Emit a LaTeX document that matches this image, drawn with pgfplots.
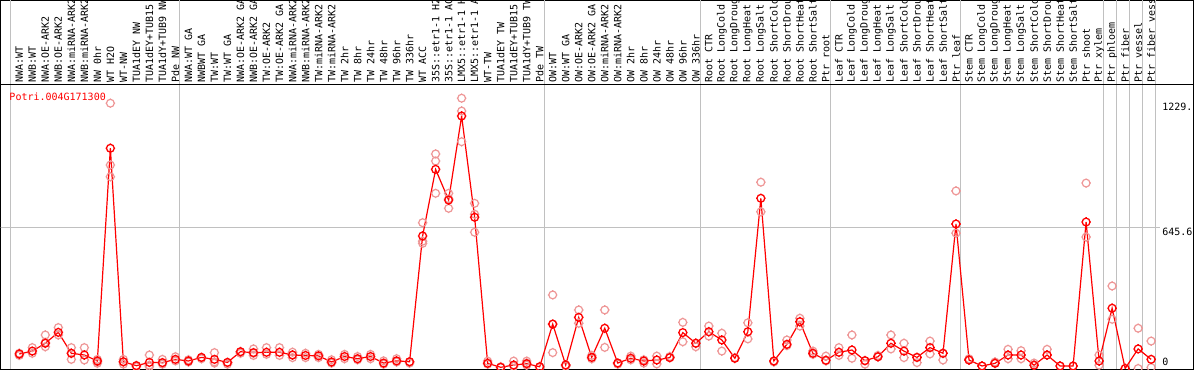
\documentclass[border=0pt]{standalone}
\usepackage{pgfplots}
\pgfplotsset{compat=1.18}
\usepackage{fontspec}
\setmainfont{DejaVu Sans Mono}
\definecolor{rep}{RGB}{238,150,150}
\definecolor{gridc}{RGB}{192,192,192}
\pgfdeclareplotmark{tcirc}{%
  \pgfpathcircle{\pgfpointorigin}{\pgfplotmarksize}%
  \pgfpathmoveto{\pgfpoint{0pt}{\pgfplotmarksize}}\pgfpathlineto{\pgfpoint{0pt}{\pgfplotmarksize+0.9pt}}%
  \pgfpathmoveto{\pgfpoint{0pt}{-\pgfplotmarksize}}\pgfpathlineto{\pgfpoint{0pt}{-\pgfplotmarksize-0.9pt}}%
  \pgfpathmoveto{\pgfpoint{\pgfplotmarksize}{0pt}}\pgfpathlineto{\pgfpoint{\pgfplotmarksize+0.9pt}{0pt}}%
  \pgfpathmoveto{\pgfpoint{-\pgfplotmarksize}{0pt}}\pgfpathlineto{\pgfpoint{-\pgfplotmarksize-0.9pt}{0pt}}%
  \pgfusepathqstroke}
\pgfplotstableread{
x y
0 66.6
1 80
2 116
3 166
4 70
5 62
6 34.5
7 1012
8 31
9 13
10 28
11 27
12 42
13 34.5
14 51
15 42
16 28
17 77
18 73
19 74.5
20 74.5
21 62
22 60
23 58
24 30
25 55
26 45
27 55
28 25
29 35
30 31
31 609
32 915
33 774
34 1160
35 695
36 24
37 5.5
38 16
39 22
40 8
41 204
42 16
43 235
44 51
45 185
46 25
47 47
48 34.5
49 39
50 50
51 165
52 116
53 169
54 131
55 47
56 169
57 782
58 34.5
59 111
60 215
61 70
62 38
63 74.5
64 85
65 36
66 54
67 116
68 80
69 51
70 96
71 70
72 664
73 39
74 11.5
75 24
76 62
77 62
78 15
79 62
80 11.5
81 11.5
82 673
83 34.5
84 277
85 0
86 90
87 42
}\means
\pgfplotstableread{
x y
0 70
0 60
1 96
1 70
2 154
2 100
2 120
3 188
3 154
4 96
4 42
4 70
5 96
5 39
6 24
6 42
6 30
7 1219
7 935
7 881
8 42
8 20
8 30
9 13
9 8
10 62
10 8
10 15
11 42
11 20
11 25
12 54
12 35
13 30
13 40
14 51
14 45
15 73
15 30
15 25
16 28
16 20
17 77
17 70
18 90
18 60
18 70
19 96
19 65
20 96
20 60
21 62
21 75
21 50
22 70
22 50
23 65
23 50
24 40
24 25
25 65
25 45
26 55
26 40
27 65
27 45
28 35
28 20
29 45
29 30
30 31
30 25
31 670
31 575
31 585
32 986
32 953
32 805
33 805
33 736
33 780
34 1242
34 1183
34 1042
35 759
35 709
35 626
36 34
36 20
37 5
37 8
38 34
38 10
39 34
39 25
39 15
40 8
40 5
41 338
41 73
41 204
42 16
42 10
43 269
43 208
44 60
44 45
45 269
45 97
46 25
46 20
47 57
47 40
48 40
48 25
49 57
49 21
50 50
50 55
51 212
51 123
52 116
52 100
53 195
53 149
54 162
54 80
55 47
55 50
56 210
56 136
57 856
57 720
58 34
58 30
59 131
59 105
60 231
60 195
61 80
61 65
62 57
62 35
63 96
63 60
64 154
64 47
65 36
65 20
66 54
66 60
67 154
67 90
68 116
68 50
69 51
69 27
70 126
70 67
71 70
71 39
72 816
72 622
73 45
73 39
74 11.5
75 24
75 30
76 88
76 45
77 82
77 45
78 25
78 15
79 88
79 62
80 11.5
81 11.5
82 852
82 604
83 62
83 15
84 379
84 226
85 0
86 185
86 0
87 126
87 5
}\reps
\newcommand\lab[2]{\node[rotate=90,anchor=west,inner sep=0pt] at (axis cs:#1,1311.8) {#2};}
\begin{document}
\fontsize{10bp}{12bp}\selectfont
\begin{tikzpicture}
\begin{axis}[
  at={(0.5bp,1bp)}, anchor=south west,
  scale only axis, width=1193bp, height=368.5bp,
  xmin=-1.445, xmax=90.254, ymin=-2.3, ymax=1690.9,
  axis line style={black, line width=1bp},
  ticks=none,
  clip=true,
]
% vertical grid lines
\pgfplotsinvokeforeach{-0.65,12.35,40.35,52.35,62.35,72.35,83.35,84.35,85.35,86.35,87.35}{
  \draw[gridc, line width=1bp] (axis cs:#1,-10) -- (axis cs:#1,1800);
}
\draw[gridc, line width=1bp] (axis cs:-1.5,645.6) -- (axis cs:87.7,645.6);
\draw[black, line width=1bp] (axis cs:-1.5,1302.7) -- (axis cs:91,1302.7);
% header labels
\lab{0}{NWA:WT}
\lab{1}{NWB:WT}
\lab{2}{NWA:OE-ARK2}
\lab{3}{NWB:OE-ARK2}
\lab{4}{NWA:miRNA-ARK2}
\lab{5}{NWB:miRNA-ARK2}
\lab{6}{NW 0hr}
\lab{7}{WT H2O}
\lab{8}{WT-NW}
\lab{9}{TUA1dEY NW}
\lab{10}{TUA1dEY+TUB15}
\lab{11}{TUA1dY+TUB9 NW}
\lab{12}{Pde NW}
\lab{13}{NWA:WT GA}
\lab{14}{NWBWT GA}
\lab{15}{TW:WT}
\lab{16}{TW:WT GA}
\lab{17}{NWA:OE-ARK2 GA}
\lab{18}{NWB:OE-ARK2 GA}
\lab{19}{TW:OE-ARK2}
\lab{20}{TW:OE-ARK2 GA}
\lab{21}{NWA:miRNA-ARK2}
\lab{22}{NWB:miRNA-ARK2}
\lab{23}{TW:miRNA-ARK2}
\lab{24}{TW:miRNA-ARK2}
\lab{25}{TW 2hr}
\lab{26}{TW 8hr}
\lab{27}{TW 24hr}
\lab{28}{TW 48hr}
\lab{29}{TW 96hr}
\lab{30}{TW 336hr}
\lab{31}{WT ACC}
\lab{32}{35S::etr1-1 H2}
\lab{33}{35S::etr1-1 AC}
\lab{34}{LMX5::etr1-1 H}
\lab{35}{LMX5::etr1-1 A}
\lab{36}{WT-TW}
\lab{37}{TUA1dEY TW}
\lab{38}{TUA1dEY+TUB15}
\lab{39}{TUA1dY+TUB9 TW}
\lab{40}{Pde TW}
\lab{41}{OW:WT}
\lab{42}{OW:WT GA}
\lab{43}{OW:OE-ARK2}
\lab{44}{OW:OE-ARK2 GA}
\lab{45}{OW:miRNA-ARK2}
\lab{46}{OW:miRNA-ARK2}
\lab{47}{OW 2hr}
\lab{48}{OW 8hr}
\lab{49}{OW 24hr}
\lab{50}{OW 48hr}
\lab{51}{OW 96hr}
\lab{52}{OW 336hr}
\lab{53}{Root CTR}
\lab{54}{Root LongCold}
\lab{55}{Root LongDroug}
\lab{56}{Root LongHeat}
\lab{57}{Root LongSalt}
\lab{58}{Root ShortCold}
\lab{59}{Root ShortDrou}
\lab{60}{Root ShortHeat}
\lab{61}{Root ShortSalt}
\lab{62}{Ptr root}
\lab{63}{Leaf CTR}
\lab{64}{Leaf LongCold}
\lab{65}{Leaf LongDroug}
\lab{66}{Leaf LongHeat}
\lab{67}{Leaf LongSalt}
\lab{68}{Leaf ShortCold}
\lab{69}{Leaf ShortDrou}
\lab{70}{Leaf ShortHeat}
\lab{71}{Leaf ShortSalt}
\lab{72}{Ptr leaf}
\lab{73}{Stem CTR}
\lab{74}{Stem LongCold}
\lab{75}{Stem LongDroug}
\lab{76}{Stem LongHeat}
\lab{77}{Stem LongSalt}
\lab{78}{Stem ShortCold}
\lab{79}{Stem ShortDrou}
\lab{80}{Stem ShortHeat}
\lab{81}{Stem ShortSalt}
\lab{82}{Ptr shoot}
\lab{83}{Ptr xylem}
\lab{84}{Ptr phloem}
\lab{85}{Ptr fiber}
\lab{86}{Ptr vessel}
\lab{87}{Ptr fiber vess}
% title and value labels
\node[anchor=base west, inner sep=0pt, text=red] at (axis cs:-0.77,1230.5) {Potri.004G171300};
\node[anchor=base west, inner sep=0pt] at (axis cs:87.85,1185) {1229.};
\node[anchor=base west, inner sep=0pt] at (axis cs:87.85,611) {645.6};
\node[anchor=base west, inner sep=0pt] at (axis cs:87.85,14.7) {0};
% data
\addplot[only marks, rep, mark=tcirc, mark size=3.9bp, mark options={line width=1.2bp}] table[x=x,y=y] {\reps};
\addplot[red, line width=1.2bp, mark=tcirc, mark size=3.9bp, mark options={line width=1.3bp}] table[x=x,y=y] {\means};
\end{axis}
\pgfresetboundingbox
\useasboundingbox (0,0) rectangle (1194bp,370bp);
\end{tikzpicture}
\end{document}
